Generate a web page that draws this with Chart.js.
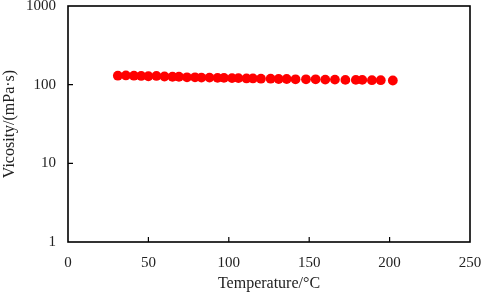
<!DOCTYPE html>
<html>
<head>
<meta charset="utf-8">
<script src="https://cdn.jsdelivr.net/npm/chart.js@4.4.0/dist/chart.umd.min.js"></script>
<style>
html,body{margin:0;padding:0;background:#fff;}
#wrap{width:484px;height:297px;}
</style>
</head>
<body>
<div id="wrap"><canvas id="c" width="484" height="297"></canvas></div>
<script>
const temperatures = [31, 36, 41, 45.5, 50, 55, 60, 65, 69, 74, 79, 83, 88, 93, 97, 102, 106, 111, 115, 120, 126, 131, 136, 141.5, 148, 154, 160, 166, 172.5, 179, 183, 189, 194.5, 202];
const viscosities = [130, 131, 130, 129, 128, 129, 127, 126, 126, 124, 124, 123, 123, 122, 122, 121, 121, 120, 120, 119, 119, 118, 118, 117, 117, 117, 116, 116, 115, 115, 115, 114, 114, 113];
const xTickValues = [0, 50, 100, 150, 200, 250];
const yTickValues = [1, 10, 100, 1000];

const points = temperatures.map((t, i) => ({x: t, y: viscosities[i]}));
const FONT = "'Liberation Serif', 'Times New Roman', serif";

const framePlugin = {
  id: 'frame',
  afterDraw(chart) {
    const ctx = chart.ctx, a = chart.chartArea;
    const xs = chart.scales.x, ys = chart.scales.y;
    ctx.save();
    ctx.strokeStyle = '#000';
    ctx.lineWidth = 1.6;
    ctx.strokeRect(a.left, a.top, a.right - a.left, a.bottom - a.top);
    ctx.lineWidth = 1.2;
    ctx.beginPath();
    xTickValues.forEach(v => {
      const px = xs.getPixelForValue(v);
      if (px > a.left + 1 && px < a.right - 1) {
        ctx.moveTo(px, a.bottom);
        ctx.lineTo(px, a.bottom - 5);
      }
    });
    yTickValues.forEach(v => {
      const py = ys.getPixelForValue(v);
      if (py > a.top + 1 && py < a.bottom - 1) {
        ctx.moveTo(a.left, py);
        ctx.lineTo(a.left + 5, py);
      }
    });
    ctx.stroke();
    ctx.restore();
  }
};

new Chart(document.getElementById('c'), {
  type: 'scatter',
  data: {
    datasets: [{
      data: points,
      backgroundColor: '#FF0000',
      borderColor: '#FF0000',
      pointRadius: 4.9,
      pointHoverRadius: 4.9,
      borderWidth: 0,
      showLine: false
    }]
  },
  options: {
    responsive: false,
    animation: false,
    devicePixelRatio: 1,
    layout: {padding: {top: 6, right: 14, left: 0, bottom: 0}},
    plugins: {legend: {display: false}, tooltip: {enabled: false}},
    scales: {
      x: {
        type: 'linear',
        min: 0, max: 250,
        afterBuildTicks: s => { s.ticks = xTickValues.map(v => ({value: v})); },
        afterFit: s => { s.height = 55; s.paddingLeft = 0; s.paddingRight = 0; },
        grid: {display: false, drawTicks: false},
        border: {display: false},
        ticks: {color: '#222', font: {family: FONT, size: 15}, padding: 12, maxRotation: 0},
        title: {display: true, text: 'Temperature/°C', color: '#222', font: {family: FONT, size: 16}, padding: {top: 0, bottom: 4}}
      },
      y: {
        type: 'logarithmic',
        min: 1, max: 1000,
        afterBuildTicks: s => { s.ticks = yTickValues.map(v => ({value: v})); },
        afterFit: s => { s.width = 68; s.paddingTop = 0; s.paddingBottom = 0; },
        grid: {display: false, drawTicks: false},
        border: {display: false},
        ticks: {color: '#222', font: {family: FONT, size: 15}, padding: 12, callback: v => String(v)},
        title: {display: true, text: 'Vicosity/(mPa·s)', color: '#222', font: {family: FONT, size: 16}, padding: {top: 0, bottom: 0}}
      }
    }
  },
  plugins: [framePlugin]
});
</script>
</body>
</html>
